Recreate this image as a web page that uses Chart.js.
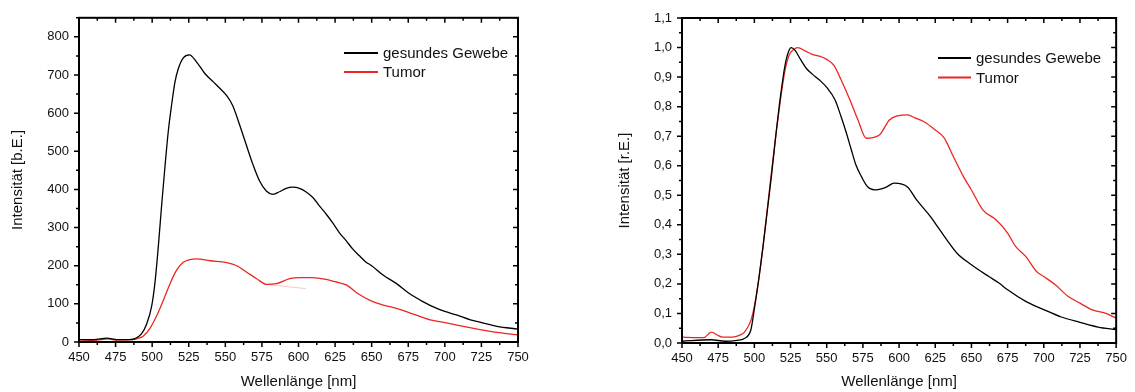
<!DOCTYPE html>
<html>
<head>
<meta charset="utf-8">
<script src="https://cdn.jsdelivr.net/npm/chart.js@4/dist/chart.umd.min.js"></script>
<style>
  html, body { margin: 0; padding: 0; background: #fff; }
  #wrap { position: relative; width: 1135px; height: 392px; }
  canvas { position: absolute; top: 0; }
</style>
</head>
<body>
<div id="wrap">
  <canvas id="chartAbs" width="567" height="392" style="left:0"></canvas>
  <canvas id="chartRel" width="568" height="392" style="left:567px"></canvas>
</div>
<script>
const seriesNames = ['gesundes Gewebe', 'Tumor']
const xTicks = [450, 475, 500, 525, 550, 575, 600, 625, 650, 675, 700, 725, 750]
const yTicksAbs = [0, 100, 200, 300, 400, 500, 600, 700, 800]
const yTicksRel = [0, 0.1, 0.2, 0.3, 0.4, 0.5, 0.6, 0.7, 0.8, 0.9, 1.0, 1.1]

// left chart, intensity in b.E.
const absGesundX = [450, 460, 469, 476, 484, 488.3, 492.8, 496.3, 499.7, 501.9, 504.2, 506.5, 508.8, 511, 513.3, 515.6, 517.9, 521.3, 525.5, 530.4, 536, 541.8, 546, 550.7, 555, 559.8, 564.3, 568.9, 573.4, 578, 582.5, 587, 591.6, 596, 600.7, 605, 609.8, 614.3, 619, 623.4, 628, 632.5, 637, 641.6, 646, 650, 658, 667, 675, 685, 694.5, 700, 708, 717.5, 725, 735.6, 750]
const absGesund = [6, 6, 10, 6, 6, 9, 22, 48, 95, 155, 250, 360, 462, 552, 622, 682, 717, 745, 753, 734, 704, 682, 666, 647, 620, 569, 517, 465, 422, 396, 387, 394, 403, 406, 403, 394, 379, 357, 335, 312, 286, 266, 244, 226, 210, 200, 175, 153, 129, 106, 88, 80, 71, 58, 51, 41, 34]
const absTumorX = [450, 460, 470, 476, 485, 490, 494, 498.5, 503, 507.6, 512.2, 516.8, 521.3, 525.9, 530.4, 539.5, 551, 557.8, 564.6, 571.4, 578.3, 585, 594, 600.7, 609.8, 618.9, 625, 633, 639.7, 650, 658, 667, 678.5, 690, 700, 712.6, 725, 735.6, 750]
const absTumor = [6, 4, 8, 5, 6, 9, 16, 36, 68, 109, 153, 189, 209, 216, 218, 213, 208, 200, 183, 166, 151, 153, 166, 169, 169, 164, 158, 149, 129, 107, 97, 88, 73, 58, 51, 41, 32, 25, 19]
const absGhostX = [578, 605]
const absGhost = [151, 140]

// right chart, intensity in r.E.
const relGesundX = [450, 470, 480, 488, 493, 497.6, 500, 503, 506, 509, 512, 515, 518, 521, 523.5, 525.5, 528, 532, 536, 540, 545, 550, 555.7, 560, 563, 567, 570, 574, 578, 583, 590.8, 596.7, 605.8, 612, 621.7, 625, 633, 640, 650, 662, 669, 675, 687.5, 700, 712, 725, 737.5, 750]
const relGesund = [0.006, 0.011, 0.006, 0.009, 0.015, 0.045, 0.115, 0.214, 0.327, 0.45, 0.574, 0.71, 0.833, 0.935, 0.985, 1.0, 0.991, 0.959, 0.929, 0.91, 0.89, 0.865, 0.823, 0.765, 0.72, 0.654, 0.605, 0.563, 0.53, 0.518, 0.527, 0.541, 0.528, 0.485, 0.428, 0.405, 0.349, 0.304, 0.265, 0.225, 0.203, 0.18, 0.141, 0.113, 0.088, 0.07, 0.054, 0.045]
const relTumorX = [450, 460, 465, 470.3, 474, 478, 485, 489.6, 493, 497.5, 500, 503, 506, 509, 512, 515, 518, 521, 524, 527, 530, 535, 540, 545, 550, 555, 560, 566, 571.6, 577.3, 586.4, 593.3, 599, 605.8, 611, 617.2, 625, 631, 637.5, 644.5, 650, 658, 667, 675, 680.5, 687.5, 695, 700, 708, 716.7, 725, 733, 742.5, 750]
const relTumor = [0.02, 0.018, 0.018, 0.037, 0.028, 0.02, 0.02, 0.026, 0.036, 0.075, 0.125, 0.215, 0.327, 0.456, 0.586, 0.71, 0.822, 0.918, 0.974, 0.993, 1.0, 0.989, 0.977, 0.971, 0.96, 0.94, 0.89, 0.823, 0.755, 0.693, 0.704, 0.755, 0.769, 0.772, 0.762, 0.749, 0.721, 0.695, 0.631, 0.563, 0.518, 0.45, 0.417, 0.372, 0.327, 0.293, 0.242, 0.225, 0.197, 0.158, 0.135, 0.113, 0.101, 0.084]

const BLACK = '#000000'
const RED = 'rgb(236, 38, 32)'
const FONT = '"Liberation Sans", Arial, sans-serif'

const pts = (xs, ys) => xs.map((x, i) => ({x: x, y: ys[i]}))

// box frame with ticks: left/bottom outward, top/right inward
const framePlugin = {
  id: 'frame',
  afterDatasetsDraw(chart, args, opts) {
    const {ctx, chartArea: a, scales: {x, y}} = chart
    ctx.save()
    ctx.strokeStyle = '#000'
    ctx.lineWidth = 1.5
    ctx.beginPath()
    for (let i = 0; ; i++) {
      const v = x.min + i * opts.xMinor
      if (v > x.max + 1e-9) break
      const len = i % 2 === 0 ? 5 : 3
      const px = x.getPixelForValue(v)
      ctx.moveTo(px, a.bottom); ctx.lineTo(px, a.bottom + len)
      ctx.moveTo(px, a.top); ctx.lineTo(px, a.top + len)
    }
    for (let i = 0; ; i++) {
      const v = y.min + i * opts.yMinor
      if (v > y.max + 1e-9) break
      const len = i % 2 === 0 ? 5 : 3
      const py = y.getPixelForValue(v)
      ctx.moveTo(a.left, py); ctx.lineTo(a.left - len, py)
      ctx.moveTo(a.right, py); ctx.lineTo(a.right - len, py)
    }
    ctx.stroke()
    ctx.lineWidth = 2
    ctx.strokeRect(a.left, a.top, a.right - a.left, a.bottom - a.top)
    ctx.restore()
  }
}

const inLegendPlugin = {
  id: 'inLegend',
  afterDraw(chart, args, opts) {
    const ctx = chart.ctx
    ctx.save()
    ctx.font = '15px ' + FONT
    ctx.textBaseline = 'middle'
    ctx.fillStyle = '#111'
    seriesNames.forEach((name, i) => {
      const ds = chart.data.datasets[i]
      const yy = opts.y + i * opts.row
      ctx.strokeStyle = ds.borderColor
      ctx.lineWidth = 2
      ctx.beginPath()
      ctx.moveTo(opts.x, yy)
      ctx.lineTo(opts.x + opts.len, yy)
      ctx.stroke()
      ctx.fillText(name, opts.x + opts.len + 5, yy + 1)
    })
    ctx.restore()
  }
}

function makeChart(id, datasets, yMax, yTicks, yLabel, fmt, yMinor, lay) {
  return new Chart(document.getElementById(id), {
    type: 'line',
    data: {datasets: datasets},
    options: {
      responsive: false,
      animation: false,
      layout: {padding: {left: 0, top: lay.top, right: lay.right, bottom: 0}},
      elements: {
        point: {radius: 0},
        line: {borderWidth: 1.3, cubicInterpolationMode: 'monotone'}
      },
      plugins: {
        legend: {display: false},
        tooltip: {enabled: false},
        frame: {xMinor: 12.5, yMinor: yMinor},
        inLegend: lay.legend
      },
      scales: {
        x: {
          type: 'linear',
          min: 450,
          max: 750,
          afterBuildTicks: (s) => { s.ticks = xTicks.map((v) => ({value: v})) },
          afterFit: (s) => { s.height = lay.xHeight },
          grid: {display: false, drawTicks: false},
          border: {display: false},
          ticks: {padding: 8, color: '#111', maxRotation: 0, autoSkip: false, font: {family: FONT, size: 13}},
          title: {display: true, text: 'Wellenlänge [nm]', color: '#111', padding: {top: 0, bottom: 1}, font: {family: FONT, size: 15}}
        },
        y: {
          type: 'linear',
          min: 0,
          max: yMax,
          afterBuildTicks: (s) => { s.ticks = yTicks.map((v) => ({value: v})) },
          afterFit: (s) => { s.width = lay.yWidth },
          grid: {display: false, drawTicks: false},
          border: {display: false},
          ticks: {padding: 10, color: '#111', autoSkip: false, font: {family: FONT, size: 13}, callback: fmt},
          title: {display: true, text: yLabel, color: '#111', padding: {top: lay.yTitlePad, bottom: 0}, font: {family: FONT, size: 15}}
        }
      }
    },
    plugins: [framePlugin, inLegendPlugin]
  })
}

makeChart('chartAbs', [
  {label: seriesNames[0], data: pts(absGesundX, absGesund), borderColor: BLACK},
  {label: seriesNames[1], data: pts(absTumorX, absTumor), borderColor: RED},
  {label: '', data: pts(absGhostX, absGhost), borderColor: 'rgba(240, 130, 130, 0.45)', borderWidth: 1}
], 850, yTicksAbs, 'Intensität [b.E.]', (v) => String(v), 50,
  {top: 16, right: 49, xHeight: 50, yWidth: 79, yTitlePad: 9, legend: {x: 344, y: 53, len: 34, row: 19}})

makeChart('chartRel', [
  {label: seriesNames[0], data: pts(relGesundX, relGesund), borderColor: BLACK},
  {label: seriesNames[1], data: pts(relTumorX, relTumor), borderColor: RED}
], 1.1, yTicksRel, 'Intensität [r.E.]', (v) => v.toFixed(1).replace('.', ','), 0.05,
  {top: 18, right: 14, xHeight: 49, yWidth: 115, yTitlePad: 49, legend: {x: 371, y: 58, len: 33, row: 19.5}})
</script>
</body>
</html>
